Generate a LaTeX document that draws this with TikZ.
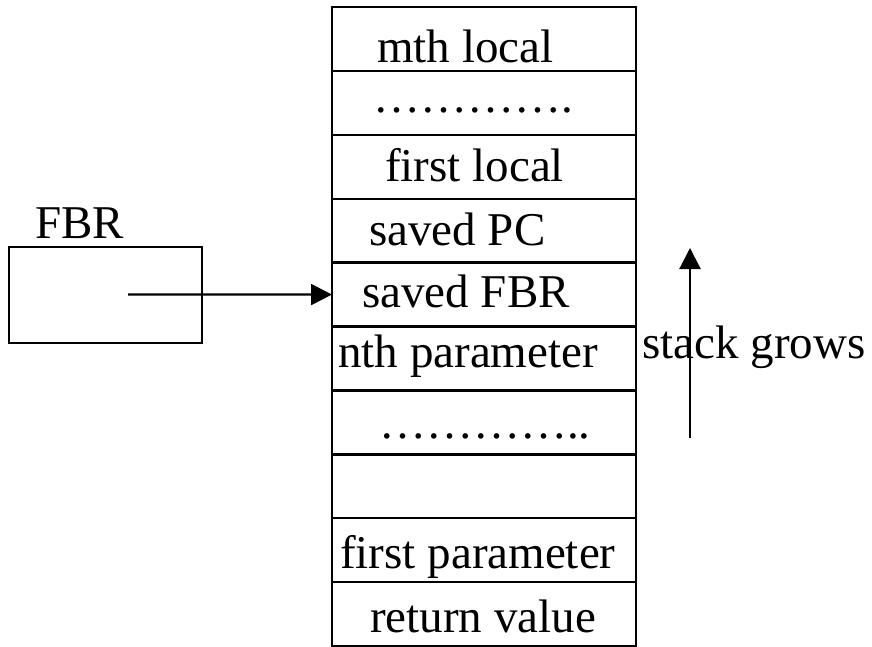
\documentclass[tikz,border=0pt]{standalone}
\usepackage{fontspec}
\setmainfont{Liberation Serif}
\usetikzlibrary{arrows.meta}
\begin{document}
\begin{tikzpicture}[x=1pt,y=-1pt,
  cell/.style={draw,line width=2.4pt,minimum width=304pt,minimum height=63.9pt,inner sep=0pt,outer sep=0pt},
  lbl/.style={anchor=base west,inner sep=0pt,font=\fontsize{47}{50}\selectfont},
  conn/.style={line width=2.2pt,-{Triangle[length=21pt,width=21pt]}}]
\useasboundingbox (0,0) rectangle (872,647);
\foreach \i in {1,...,10}{
  \node[cell] (r\i) at (484,{7+63.9*(\i-0.5)}) {};
}
\node[lbl] (t1) at (377,63) {mth local};
\node[lbl] (t2) at (373,113) {………….};
\node[lbl] (t3) at (385,182) {first local};
\node[lbl] (t4) at (369,245) {saved PC};
\node[lbl] (t5) at (362,307) {saved FBR};
\node[lbl] (t6) at (338,367) {nth parameter};
\node[lbl] (t7) at (379,438) {…………..};
\node[lbl] (t9) at (340,568) {first parameter};
\node[lbl] (t10) at (370,632) {return value};
\node[draw,line width=1.4pt,minimum width=193pt,minimum height=96pt,inner sep=0pt] (fbr) at (105.5,295) {};
\node[lbl] (fbrl) at (35,238) {FBR};
\coordinate (fbrp) at (128,294.5);
\draw[conn] (fbrp) -- (r5.west);
\coordinate (gb) at (690,438);
\coordinate (gt) at (690,248);
\draw[conn] (gb) -- (gt);
\node[lbl] (sg) at (642,358) {stack grows};
\end{tikzpicture}
\end{document}
